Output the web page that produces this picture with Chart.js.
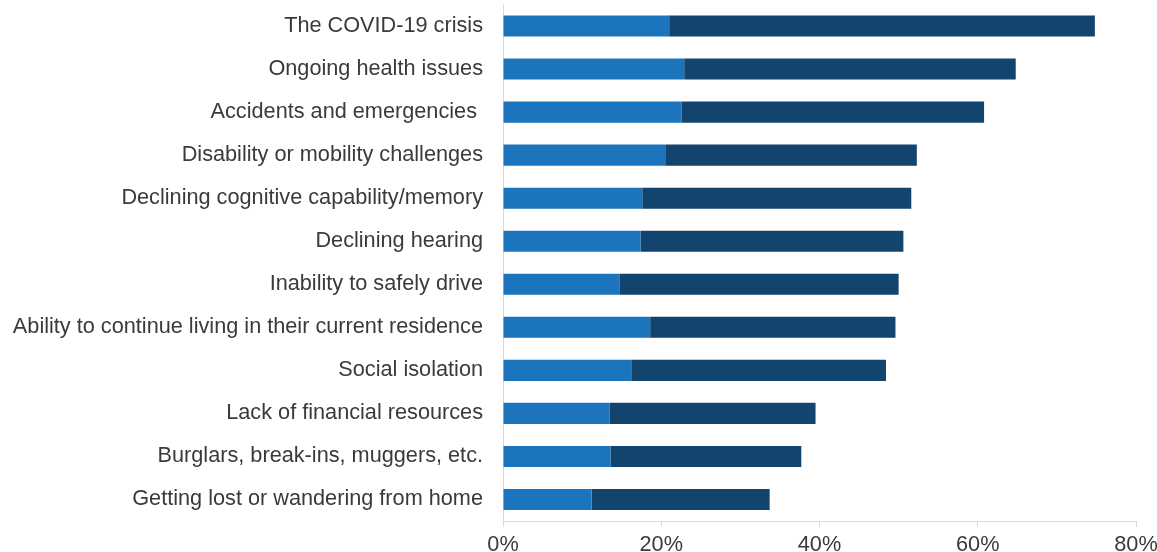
<!DOCTYPE html>
<html>
<head>
<meta charset="utf-8">
<script src="https://cdn.jsdelivr.net/npm/chart.js@4"></script>
<style>
  html, body { margin: 0; padding: 0; background: #fff; }
  #wrap { width: 1157px; height: 552px; position: relative; }
</style>
</head>
<body>
<div id="wrap"><canvas id="grafico"></canvas></div>
<script>
// Categorias (de cima para baixo)
const categorias = [
  "The COVID-19 crisis",
  "Ongoing health issues",
  "Accidents and emergencies ",
  "Disability or mobility challenges",
  "Declining cognitive capability/memory",
  "Declining hearing",
  "Inability to safely drive",
  "Ability to continue living in their current residence",
  "Social isolation",
  "Lack of financial resources",
  "Burglars, break-ins, muggers, etc.",
  "Getting lost or wandering from home"
];

// Série clara (primeiro segmento) e série escura (segundo segmento), em %
const serieClara  = [21.0, 22.9, 22.6, 20.6, 17.6, 17.4, 14.7, 18.6, 16.3, 13.5, 13.6, 11.2];
const serieEscura = [53.8, 41.9, 38.2, 31.7, 34.0, 33.2, 35.3, 31.0, 32.1, 26.0, 24.1, 22.5];

const ticksX = [0, 20, 40, 60, 80];

const fonte = { family: "'Liberation Sans', Arial, sans-serif", size: 21.7 };
const corTexto = '#3a3a3a';
const corEixo = '#d9d9d9';

new Chart(document.getElementById('grafico'), {
  type: 'bar',
  data: {
    labels: categorias,
    datasets: [
      { data: serieClara, backgroundColor: '#1c75bc', barPercentage: 0.49, categoryPercentage: 1 },
      { data: serieEscura, backgroundColor: '#12446e', barPercentage: 0.49, categoryPercentage: 1 }
    ]
  },
  options: {
    indexAxis: 'y',
    responsive: true,
    maintainAspectRatio: false,
    animation: false,
    layout: { padding: { top: 4.5, right: 21, left: 0, bottom: 0 } },
    plugins: { legend: { display: false }, tooltip: { enabled: false } },
    scales: {
      x: {
        stacked: true,
        min: 0,
        max: 80,
        afterBuildTicks: s => { s.ticks = ticksX.map(v => ({ value: v })); },
        afterFit: s => { s.height = 31; s.paddingLeft = 0; s.paddingRight = 0; },
        grid: { drawOnChartArea: false, tickLength: 6, tickColor: corEixo, color: corEixo },
        border: { color: corEixo },
        ticks: { color: corTexto, font: fonte, padding: 5, callback: v => v + '%', maxRotation: 0 }
      },
      y: {
        stacked: true,
        afterFit: s => { s.width = 503; s.paddingTop = 0; s.paddingBottom = 0; },
        grid: { display: false, drawTicks: false },
        border: { display: true, color: corEixo },
        ticks: { color: corTexto, font: fonte, padding: 20 }
      }
    }
  }
});
</script>
</body>
</html>
